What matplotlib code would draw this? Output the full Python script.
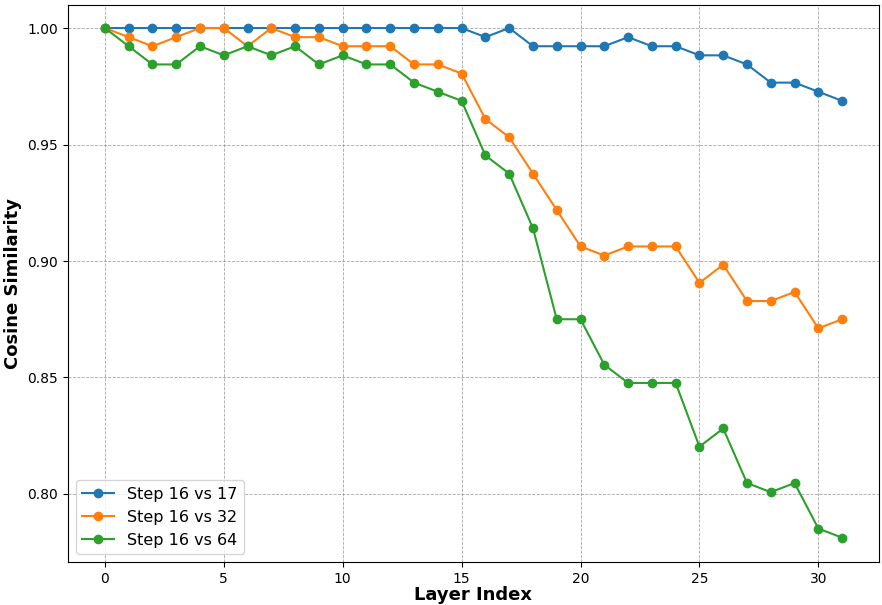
import matplotlib
matplotlib.use('Agg')
import matplotlib.pyplot as plt
import numpy as np

# layer index 0..31, values are bf16-ish cosine similarities
layers = np.arange(32)
# stored as "steps below 1.0" in units of 1/256
k_17 = [0, 0, 0, 0, 0, 0, 0, 0, 0, 0, 0, 0, 0, 0, 0, 0,
        1, 0, 2, 2, 2, 2, 1, 2, 2, 3, 3, 4, 6, 6, 7, 8]
k_32 = [0, 1, 2, 1, 0, 0, 2, 0, 1, 1, 2, 2, 2, 4, 4, 5,
        10, 12, 16, 20, 24, 25, 24, 24, 24, 28, 26, 30, 30, 29, 33, 32]
k_64 = [0, 2, 4, 4, 2, 3, 2, 3, 2, 4, 3, 4, 4, 6, 7, 8,
        14, 16, 22, 32, 32, 37, 39, 39, 39, 46, 44, 50, 51, 50, 55, 56]

sim_17 = 1 - np.array(k_17) / 256
sim_32 = 1 - np.array(k_32) / 256
sim_64 = 1 - np.array(k_64) / 256

labels = ['Step 16 vs 17', 'Step 16 vs 32', 'Step 16 vs 64']

fig = plt.figure(figsize=(8.82, 6.05), dpi=100)
ax = fig.add_axes([68/882, 1 - 562/605, (879-68)/882, (562-4.5)/605])

for y, lab in zip([sim_17, sim_32, sim_64], labels):
    ax.plot(layers, y, marker='o', markersize=6, linewidth=1.5, label=lab)

ax.set_ylim(0.7708, 1.0101)
ax.set_xlabel('Layer Index', fontsize=13, fontweight='bold', labelpad=0)
ax.set_ylabel('Cosine Similarity', fontsize=13, fontweight='bold')
ax.grid(True, linestyle='--', linewidth=0.6, color='gray', alpha=0.7)
ax.legend(fontsize=11.5, loc='lower left')

plt.savefig('out.png', dpi=100)
